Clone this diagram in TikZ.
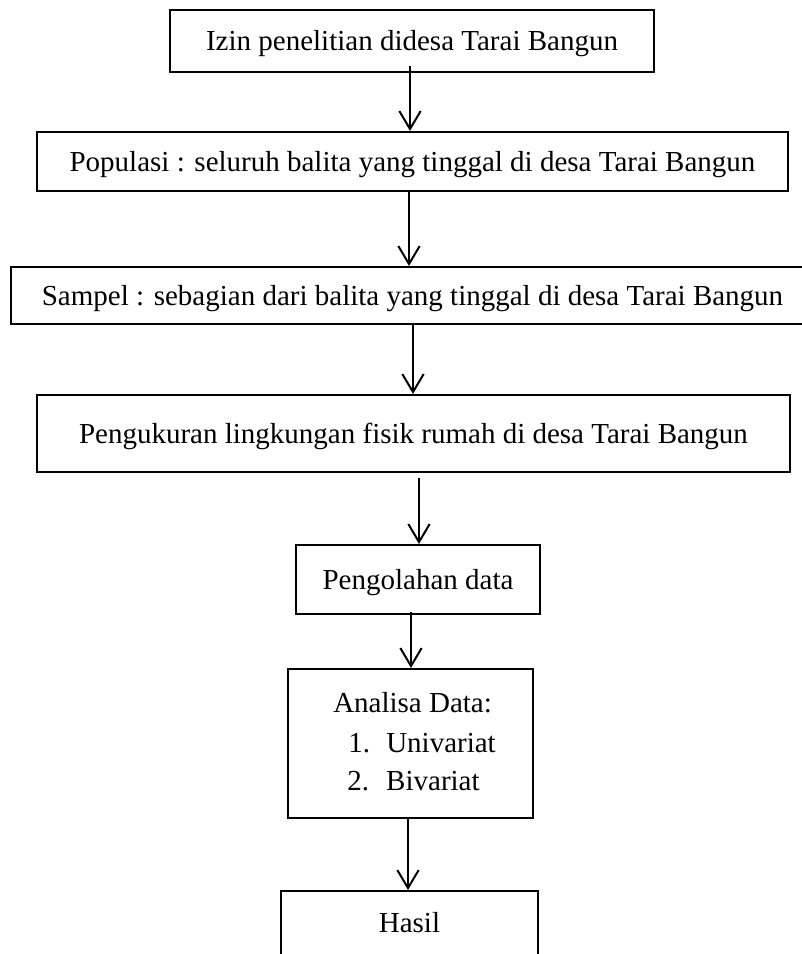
\documentclass[tikz,border=0pt]{standalone}
\usepackage{fontspec}
\setmainfont{Liberation Serif}
\usetikzlibrary{arrows.meta,calc}
\begin{document}
\begin{tikzpicture}[x=0.75pt,y=-0.75pt,
  box/.style={draw,line width=1.5pt,inner sep=0pt,text height=14.4pt,text depth=0pt,font=\fontsize{21.75pt}{29pt}\selectfont},
  lbl/.style={inner sep=0pt,anchor=base west,font=\fontsize{21.75pt}{29pt}\selectfont},
  arr/.style={line width=1.5pt,-{Straight Barb[length=13.5pt,width=16pt]}}]
\useasboundingbox (0,0) rectangle (802,954);
\clip (0,0) rectangle (802,954);
\node[box,minimum width=484*0.75pt,minimum height=62*0.75pt] (b1) at (412,41) {Izin penelitian didesa Tarai Bangun};
\node[box,minimum width=751*0.75pt,minimum height=59*0.75pt] (b2) at (412.5,161.5) {Populasi : seluruh balita yang tinggal di desa Tarai Bangun};
\node[box,minimum width=803*0.75pt,minimum height=57*0.75pt] (b3) at (412.5,295.5) {Sampel : sebagian dari balita yang tinggal di desa Tarai Bangun};
\node[box,minimum width=753*0.75pt,minimum height=77*0.75pt] (b4) at (413.5,433.5) {Pengukuran lingkungan fisik rumah di desa Tarai Bangun};
\node[box,minimum width=244*0.75pt,minimum height=69*0.75pt] (b5) at (418,579.5) {Pengolahan data};
\node[box,minimum width=245*0.75pt,minimum height=149*0.75pt] (b6) at (410.5,743.5) {};
\node[lbl] (b6l1) at (333,712) {Analisa Data:};
\node[lbl] (b6l2) at (348,752) {\makebox[28.5pt][l]{1.}Univariat};
\node[lbl] (b6l3) at (347,790) {\makebox[29.25pt][l]{2.}Bivariat};
\node[box,minimum width=257*0.75pt,minimum height=64*0.75pt] (b7) at (409.5,923) {Hasil};
\coordinate (x1) at (410,0);
\coordinate (x2) at (409,0);
\coordinate (x3) at (413,0);
\coordinate (x4) at (419,0);
\coordinate (x5) at (411,0);
\coordinate (x6) at (408,0);
\draw[arr] ($(b1.south -| x1)+(0,-7)$) -- (b2.north -| x1);
\draw[arr] (b2.south -| x2) -- (b3.north -| x2);
\draw[arr] (b3.south -| x3) -- (b4.north -| x3);
\draw[arr] ($(b4.south -| x4)+(0,5)$) -- (b5.north -| x4);
\draw[arr] ($(b5.south -| x5)+(0,-3)$) -- (b6.north -| x5);
\draw[arr] (b6.south -| x6) -- (b7.north -| x6);
\end{tikzpicture}
\end{document}
